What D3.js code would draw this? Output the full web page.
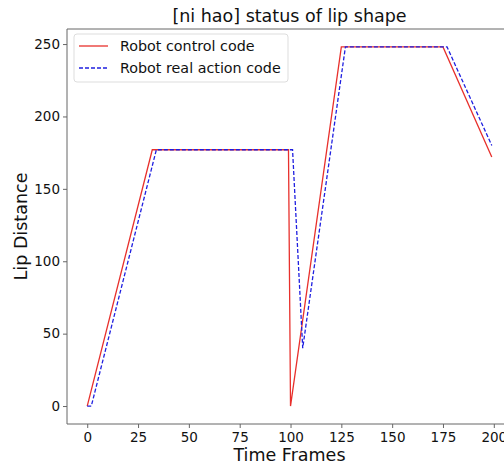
<!DOCTYPE html>
<html>
<head>
<meta charset="utf-8">
<script src="https://cdn.jsdelivr.net/npm/d3@7"></script>
<style>
  html, body { margin: 0; padding: 0; background: #fff; overflow: hidden; }
  svg { display: block; font-family: "DejaVu Sans", sans-serif; }
</style>
</head>
<body>
<svg id="chart" width="504" height="465"></svg>
<script>
const title = "[ni hao] status of lip shape";
const xLabel = "Time Frames";
const yLabel = "Lip Distance";
const seriesNames = ["Robot control code", "Robot real action code"];
const controlFrames = [0, 32, 99, 100, 125, 175, 199];
const controlValues = [0, 177, 177, 0, 248, 248, 172];
const actionFrames = [0, 2, 34, 101, 106, 127, 177, 199];
const actionValues = [0, 0, 177, 177, 40, 248, 248, 180];
const xTicks = [0, 25, 50, 75, 100, 125, 150, 175, 200];
const yTicks = [0, 50, 100, 150, 200, 250];

(function () {
const svg = d3.select("#chart");
const pl = 67, pr = 512, pt = 29, pb = 424;

const x = d3.scaleLinear().domain([-9.95, 208.95]).range([pl, pr]);
const y = d3.scaleLinear().domain([-12.4, 260.4]).range([pb, pt]);

svg.append("defs").append("clipPath").attr("id", "clip")
  .append("rect").attr("x", pl).attr("y", pt).attr("width", pr - pl).attr("height", pb - pt);

const line = d3.line().x(d => x(d[0])).y(d => y(d[1]));
const control = controlFrames.map((f, i) => [f, controlValues[i]]);
const action = actionFrames.map((f, i) => [f, actionValues[i]]);

const g = svg.append("g").attr("clip-path", "url(#clip)");
g.append("path").datum(control).attr("d", line)
  .attr("fill", "none").attr("stroke", "#e8302c").attr("stroke-width", 1.3);
g.append("path").datum(action).attr("d", line)
  .attr("fill", "none").attr("stroke", "#1f1fe0").attr("stroke-width", 1.3)
  .attr("stroke-dasharray", "4,2");

const spineColor = "#666";
svg.append("line").attr("x1", pl).attr("x2", pl).attr("y1", pt).attr("y2", pb).attr("stroke", spineColor).attr("stroke-width", 1);
svg.append("line").attr("x1", pl).attr("x2", pr).attr("y1", pb).attr("y2", pb).attr("stroke", spineColor).attr("stroke-width", 1);
svg.append("line").attr("x1", pl).attr("x2", pr).attr("y1", pt).attr("y2", pt).attr("stroke", spineColor).attr("stroke-width", 1);

const xAxis = svg.append("g").attr("transform", `translate(0,${pb})`)
  .call(d3.axisBottom(x).tickValues(xTicks).tickSize(4).tickPadding(4).tickFormat(d3.format("d")));
const yAxis = svg.append("g").attr("transform", `translate(${pl},0)`)
  .call(d3.axisLeft(y).tickValues(yTicks).tickSize(4).tickPadding(3).tickFormat(d3.format("d")));
[xAxis, yAxis].forEach(a => {
  a.select(".domain").remove();
  a.selectAll(".tick line").attr("stroke", spineColor);
  a.selectAll(".tick text").attr("fill", "#111").style("font-size", "13.5px").style("font-family", "DejaVu Sans");
});

svg.append("text").attr("x", (pl + pr) / 2).attr("y", 22).attr("text-anchor", "middle")
  .style("font-size", "17.5px").attr("fill", "#111").text(title);
svg.append("text").attr("x", (pl + pr) / 2).attr("y", 461).attr("text-anchor", "middle")
  .style("font-size", "17.5px").attr("fill", "#111").text(xLabel);
svg.append("text").attr("transform", `translate(27,${(pt + pb) / 2}) rotate(-90)`).attr("text-anchor", "middle")
  .style("font-size", "17.5px").attr("fill", "#111").text(yLabel);

const lg = svg.append("g");
lg.append("rect").attr("x", 74).attr("y", 34).attr("width", 214).attr("height", 48).attr("rx", 3)
  .attr("fill", "#fff").attr("fill-opacity", 0.8).attr("stroke", "#ddd");
const styles = [{c: "#e8302c", d: null}, {c: "#1f1fe0", d: "4,2"}];
seriesNames.forEach((n, i) => {
  const yy = 46 + i * 22;
  const l = lg.append("line").attr("x1", 79).attr("x2", 108).attr("y1", yy).attr("y2", yy)
    .attr("stroke", styles[i].c).attr("stroke-width", 1.3);
  if (styles[i].d) l.attr("stroke-dasharray", styles[i].d);
  lg.append("text").attr("x", 120).attr("y", yy + 5).style("font-size", "14.3px").attr("fill", "#111").text(n);
});
})();
</script>
</body>
</html>
